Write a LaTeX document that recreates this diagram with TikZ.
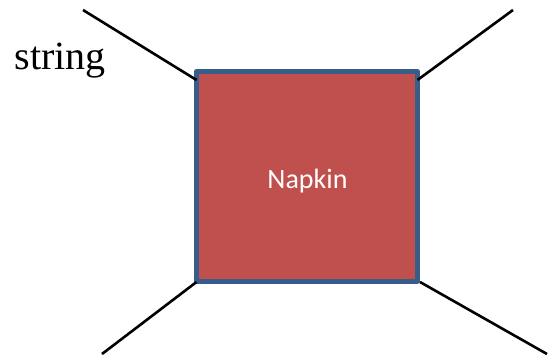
\documentclass[tikz,border=0pt]{standalone}
\usepackage{fontspec}
\setmainfont{Liberation Serif}
\newfontfamily\napfont{Carlito}
\definecolor{napred}{HTML}{C0504D}
\definecolor{napblue}{HTML}{385D8A}
\begin{document}
\begin{tikzpicture}[x=1pt,y=-1pt,
  stringline/.style={line width=2.6pt,black},
  napbox/.style={fill=napred,draw=napblue,line width=5pt,line join=round}]
\useasboundingbox (0,0) rectangle (550,356);
\draw[napbox] (196.5,71.5) rectangle (417.5,281);
\coordinate (nw) at (196.5,80);
\coordinate (ne) at (417.5,80);
\coordinate (sw) at (196.5,282);
\coordinate (se) at (420,282);
\coordinate (enw) at (83,10);
\coordinate (ene) at (513,10);
\coordinate (esw) at (102,354);
\coordinate (ese) at (547,354);
\draw[stringline] (enw) -- (nw);
\draw[stringline] (ene) -- (ne);
\draw[stringline] (esw) -- (sw);
\draw[stringline] (ese) -- (se);
\node[anchor=base,inner sep=0pt,text=white,font=\napfont\fontsize{28}{30}\selectfont] (nap) at (307.5,188) {Napkin};
\node[anchor=base,inner sep=0pt,font=\fontsize{40}{44}\selectfont] (str) at (60,69) {string};
\end{tikzpicture}
\end{document}
